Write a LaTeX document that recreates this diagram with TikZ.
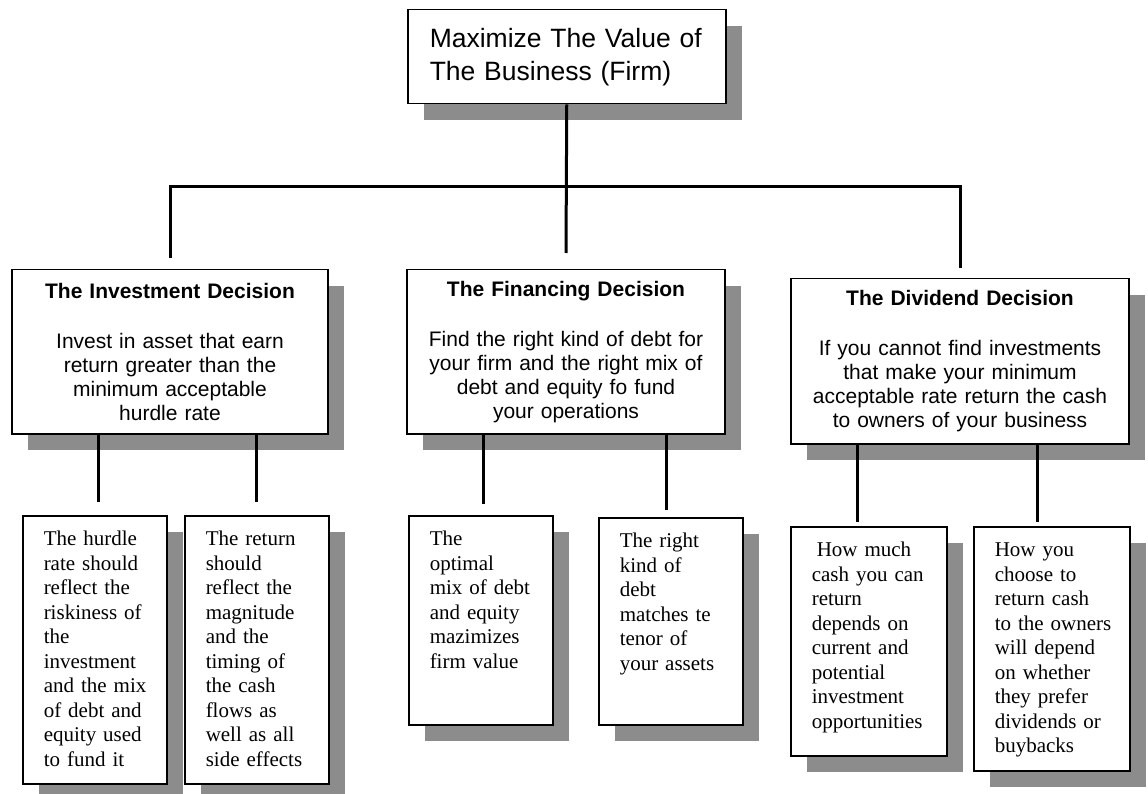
\documentclass[tikz,border=0pt]{standalone}
\usepackage{fontspec}
\setmainfont{Liberation Serif}
\newfontfamily\arialfont{Liberation Sans}
\usetikzlibrary{shadows}
\definecolor{shadowgray}{RGB}{140,140,140}

\begin{document}
\begin{tikzpicture}[x=1pt, y=-1pt,
  boxshadow/.style={drop shadow={shadow xshift=16pt, shadow yshift=-16pt,
                    fill=shadowgray, opacity=1}},
  goalbox/.style={draw, line width=1.5pt, fill=white, boxshadow,
                  anchor=north west, text width=274pt, inner xsep=22pt,
                  minimum height=94pt, align=left,
                  font={\arialfont\fontsize{26.5}{33}\selectfont}},
  decision/.style={draw, line width=1.5pt, fill=white, boxshadow,
                   anchor=north, inner xsep=10pt, align=center,
                   font={\arialfont\fontsize{21}{24}\selectfont}},
  leaf/.style={draw, line width=1.5pt, fill=white, boxshadow,
               anchor=north west, text width=110pt, inner xsep=17pt,
               inner ysep=16pt, text height=14pt, align=left,
               execute at begin node={\leftskip=4pt\relax},
               font={\fontsize{21}{24.5}\selectfont}},
  branch/.style={line width=3pt}]

\useasboundingbox (0,0) rectangle (1148,794);
\fill[white] (0,0) rectangle (1148,794);

% --- goal ------------------------------------------------------------------
\node[goalbox] (goal) at (407,9)
  {Maximize The Value of\\The Business (Firm)};

% --- the three decisions -----------------------------------------------------
\node[decision, text width=296pt, minimum width=316pt, minimum height=164pt]
  (invest) at (170,269)
  {\textbf{The Investment Decision}\\[26pt]
   Invest in asset that earn\\ return greater than the\\
   minimum acceptable\\ hurdle rate};
\node[decision, text width=298pt, minimum width=318pt, minimum height=164pt]
  (finance) at (566,269)
  {\textbf{The Financing Decision}\\[26pt]
   Find the right kind of debt for\\ your firm and the right mix of\\
   debt and equity fo fund\\ your operations};
\node[decision, text width=318pt, minimum width=338pt, minimum height=165pt]
  (dividend) at (960,278)
  {\textbf{The Dividend Decision}\\[26pt]
   If you cannot find investments\\ that make your minimum\\
   acceptable rate return the cash\\ to owners of your business};

% --- leaves ----------------------------------------------------------------
\node[leaf, text depth=222pt] (hurdle) at (22,515)
  {The hurdle\\ rate should\\ reflect the\\ riskiness of\\ the\\ investment\\
   and the mix\\ of debt and\\ equity used\\ to fund it};
\node[leaf, text depth=222pt] (return) at (184,515)
  {The return\\ should\\ reflect the\\ magnitude\\ and the\\ timing of\\
   the cash\\ flows as\\ well as all\\ side effects};
\node[leaf, text depth=163pt] (mix) at (408,515)
  {The\\ optimal\\ mix of debt\\ and equity\\ mazimizes\\ firm value};
\node[leaf, text depth=161pt] (kind) at (598,517)
  {The right\\ kind of\\ debt\\ matches te\\ tenor of\\ your assets};
\node[leaf, text width=122pt, text depth=183pt] (howmuch) at (790,526)
  {\hspace*{5pt}How much\\ cash you can\\ return\\ depends on\\ current and\\
   potential\\ investment\\ opportunities};
\node[leaf, text width=122pt, text depth=198pt] (howto) at (973,526)
  {How you\\ choose to\\ return cash\\ to the owners\\ will depend\\
   on whether\\ they prefer\\ dividends or\\ buybacks};

% --- connectors ------------------------------------------------------------
\coordinate (bar) at (0,187);
\draw[branch] (goal.south) -- ([yshift=16pt]finance.north);
\draw[branch] ([yshift=11pt]invest.north) -- (invest.north |- bar)
  -- (dividend.north |- bar) -- ([yshift=10pt]dividend.north);

\draw[branch] ([xshift=4pt]hurdle.north |- invest.south) -- ([xshift=4pt, yshift=13pt]hurdle.north);
\draw[branch] (return.north |- invest.south) -- ([yshift=13pt]return.north);
\draw[branch] ([xshift=3pt]mix.north |- finance.south) -- ([xshift=3pt, yshift=11pt]mix.north);
\draw[branch] ([xshift=-4pt]kind.north |- finance.south) -- ([xshift=-4pt, yshift=7pt]kind.north);
\draw[branch] ([xshift=-11pt]howmuch.north |- dividend.south) -- ([xshift=-11pt, yshift=4pt]howmuch.north);
\draw[branch] ([xshift=-14pt]howto.north |- dividend.south) -- ([xshift=-14pt, yshift=4pt]howto.north);

\end{tikzpicture}
\end{document}
